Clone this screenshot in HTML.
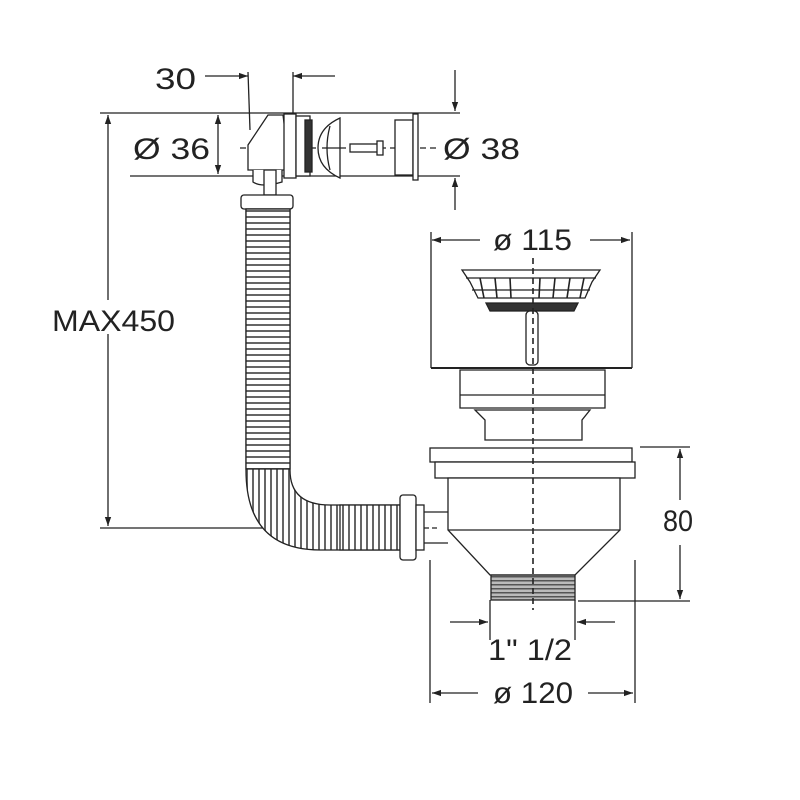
<!DOCTYPE html>
<html><head><style>body{margin:0;background:#fff}svg{display:block}text{font-family:"Liberation Sans",sans-serif;fill:#222}</style></head>
<body>
<svg width="800" height="800" viewBox="0 0 800 800" xmlns="http://www.w3.org/2000/svg">
<defs>
<marker id="a" viewBox="0 0 10 10" refX="10" refY="5" markerWidth="9" markerHeight="9" orient="auto-start-reverse" markerUnits="userSpaceOnUse"><path d="M0,1.5 L10,5 L0,8.5z" fill="#222"/></marker>
<pattern id="hose" width="6" height="6" patternUnits="userSpaceOnUse"><rect width="6" height="6" fill="#fff"/><rect width="6" height="2" fill="#666"/></pattern>
<pattern id="hoseV" width="6" height="6" patternUnits="userSpaceOnUse"><rect width="6" height="6" fill="#fff"/><rect width="2" height="6" fill="#666"/></pattern>
<pattern id="thr" width="4" height="4" patternUnits="userSpaceOnUse"><rect width="4" height="4" fill="#bbb"/><rect width="4" height="1.5" fill="#555"/></pattern>
</defs>
<g stroke="#222" stroke-width="1.3" fill="none">
<line x1="100" y1="113" x2="460" y2="113"/>
<line x1="130" y1="176" x2="460" y2="176"/>
<line x1="205" y1="76" x2="248" y2="76" marker-end="url(#a)"/>
<line x1="335" y1="76" x2="293" y2="76" marker-end="url(#a)"/>
<line x1="248" y1="72" x2="250" y2="130"/>
<line x1="293" y1="72" x2="293" y2="113"/>
<line x1="218" y1="115" x2="218" y2="174" marker-start="url(#a)" marker-end="url(#a)"/>
<line x1="455" y1="70" x2="455" y2="111" marker-end="url(#a)"/>
<line x1="455" y1="210" x2="455" y2="178" marker-end="url(#a)"/>
<line x1="240" y1="148" x2="440" y2="148" stroke-dasharray="6 4"/>
<line x1="108" y1="115" x2="108" y2="526" marker-start="url(#a)" marker-end="url(#a)"/>
<line x1="100" y1="528" x2="400" y2="528"/>
<path d="M283,115 L268,115 L248,145 L248,170 L290,170 Z" fill="#fff"/>
<path d="M253,170 L253,182 Q262,188 282,182 L282,170" fill="#fff"/>
<rect x="264" y="170" width="12" height="25" fill="#fff"/>
<rect x="284" y="114" width="12" height="64" fill="#fff"/>
<rect x="296" y="116" width="14" height="60" fill="#fff"/>
<rect x="305" y="120" width="7" height="52" fill="#333"/>
<path d="M340,118 Q318,128 318,148 Q318,168 340,178 Z" fill="#fff"/>
<path d="M330,126 Q324,148 330,170" />
<line x1="322" y1="148" x2="340" y2="148"/>
<rect x="350" y="144" width="28" height="8" fill="#fff"/>
<rect x="377" y="141" width="6" height="14" fill="#fff"/>
<rect x="395" y="120" width="18" height="55" fill="#fff"/>
<rect x="413" y="114" width="5" height="66" fill="#fff"/>
<rect x="241" y="195" width="52" height="14" rx="3" fill="#fff"/>
<path d="M246,209 L246,470 Q246,550 320,550 L400,550 L400,505 L330,505 Q290,505 290,470 L290,209 Z" fill="url(#hoseV)"/>
<rect x="246" y="209" width="44" height="260" fill="url(#hose)"/>
<rect x="340" y="505" width="60" height="45" fill="url(#hoseV)"/>
<rect x="400" y="495" width="16" height="65" rx="3" fill="#fff"/>
<rect x="416" y="505" width="8" height="45" fill="#fff"/>
<line x1="424" y1="512" x2="448" y2="512"/>
<line x1="424" y1="543" x2="448" y2="543"/>
<line x1="424" y1="528" x2="440" y2="528" stroke-dasharray="5 3"/>
<line x1="432" y1="240" x2="480" y2="240" marker-start="url(#a)"/>
<line x1="590" y1="240" x2="630" y2="240" marker-end="url(#a)"/>
<line x1="431" y1="232" x2="431" y2="368"/>
<line x1="632" y1="232" x2="632" y2="368"/>
<line x1="431" y1="368" x2="632" y2="368" stroke-width="2"/>
<path d="M462,270 L600,270 L592,282 L585,298 L478,298 L470,282 Z" fill="#fff"/>
<line x1="466" y1="278" x2="596" y2="278"/>
<line x1="472" y1="290" x2="590" y2="290"/>
<g stroke-width="1.6"><line x1="480" y1="278" x2="484" y2="298"/><line x1="495" y1="278" x2="497" y2="298"/><line x1="510" y1="278" x2="511" y2="298"/><line x1="540" y1="278" x2="539" y2="298"/><line x1="555" y1="278" x2="553" y2="298"/><line x1="570" y1="278" x2="567" y2="298"/><line x1="584" y1="278" x2="580" y2="298"/></g>
<path d="M486,303 L578,303 L574,311 L490,311 Z" fill="#333"/>
<rect x="526" y="311" width="12" height="54" rx="4" fill="#fff"/>
<path d="M460,370 L605,370 L605,408 L460,408 Z" fill="#fff"/>
<line x1="460" y1="395" x2="605" y2="395"/>
<path d="M475,410 L590,410 L582,420 L582,440 L485,440 L485,420 Z" fill="#fff"/>
<rect x="430" y="448" width="202" height="14" fill="#fff"/>
<rect x="435" y="462" width="200" height="16" fill="#fff"/>
<path d="M448,478 L620,478 L620,530 L575,575 L490,575 L448,530 Z" fill="#fff"/>
<line x1="448" y1="530" x2="620" y2="530"/>
<rect x="491" y="575" width="84" height="25" fill="url(#thr)"/>
<line x1="533" y1="258" x2="533" y2="610" stroke-dasharray="6 4" stroke-width="1.6"/>
<line x1="640" y1="447" x2="690" y2="447"/>
<line x1="578" y1="601" x2="690" y2="601"/>
<line x1="680" y1="500" x2="680" y2="449" marker-end="url(#a)"/>
<line x1="680" y1="545" x2="680" y2="599" marker-end="url(#a)"/>
<line x1="490" y1="600" x2="490" y2="640"/>
<line x1="575" y1="600" x2="575" y2="640"/>
<line x1="450" y1="622" x2="488" y2="622" marker-end="url(#a)"/>
<line x1="615" y1="622" x2="577" y2="622" marker-end="url(#a)"/>
<line x1="430" y1="560" x2="430" y2="703"/>
<line x1="635" y1="560" x2="635" y2="703"/>
<line x1="432" y1="693" x2="478" y2="693" marker-start="url(#a)"/>
<line x1="588" y1="693" x2="633" y2="693" marker-end="url(#a)"/>
</g>
<rect x="50" y="300" width="128" height="34" fill="#fff"/>
<rect x="488" y="228" width="88" height="28" fill="#fff"/>
<g font-size="30">
<text x="155" y="89" textLength="41" lengthAdjust="spacingAndGlyphs">30</text>
<text x="133" y="159" textLength="77" lengthAdjust="spacingAndGlyphs">Ø 36</text>
<text x="443" y="159" textLength="77" lengthAdjust="spacingAndGlyphs">Ø 38</text>
<text x="52" y="331" textLength="123" lengthAdjust="spacingAndGlyphs">MAX450</text>
<text x="493" y="250" textLength="79" lengthAdjust="spacingAndGlyphs">ø 115</text>
<text x="663" y="531" textLength="30" lengthAdjust="spacingAndGlyphs">80</text>
<text x="488" y="660" textLength="84" lengthAdjust="spacingAndGlyphs">1" 1/2</text>
<text x="493" y="703" textLength="80" lengthAdjust="spacingAndGlyphs">ø 120</text>
</g>
</svg>
</body></html>
